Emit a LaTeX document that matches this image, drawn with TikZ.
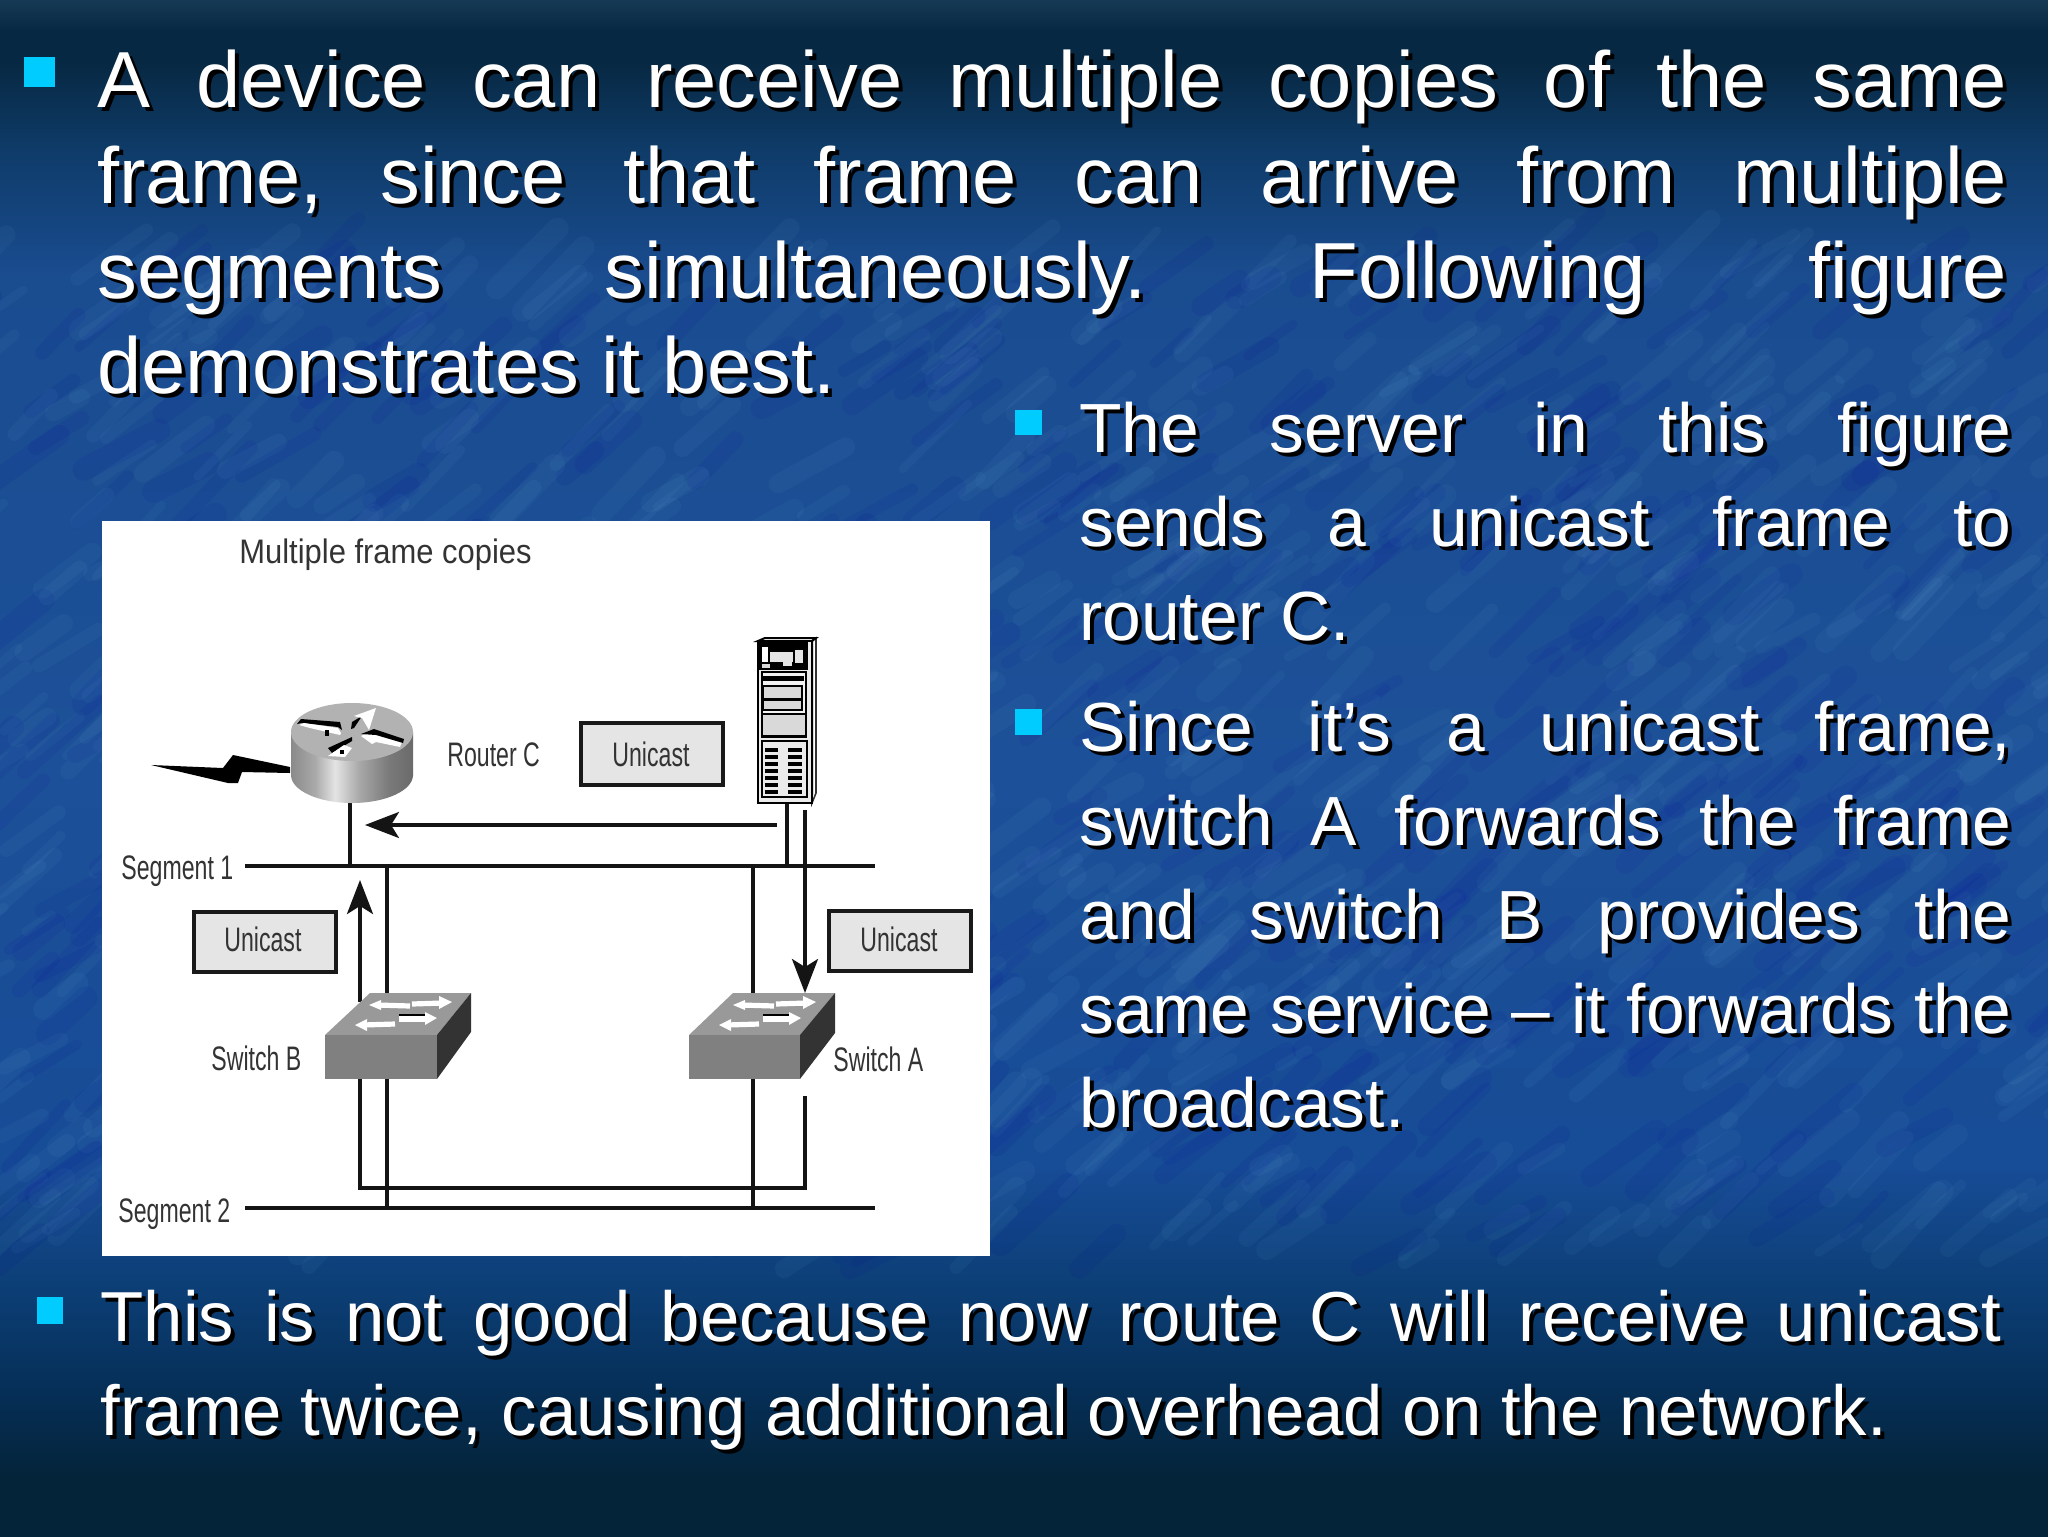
\documentclass[tikz,border=0pt]{standalone}
\usepackage{fontspec}
\setmainfont{Liberation Sans}
\newfontfamily\labfont[FakeStretch=0.68]{Liberation Sans}
\newfontfamily\titlefont[FakeStretch=0.91]{Liberation Sans}
\frenchspacing
\usetikzlibrary{arrows.meta}
\definecolor{bulletc}{HTML}{00CCFF}
\definecolor{bga}{HTML}{04243A}
\definecolor{bgc}{HTML}{06305A}
\definecolor{bgd}{HTML}{0C3E75}
\definecolor{bge}{HTML}{174C96}
\definecolor{bgf}{HTML}{1C5098}
\definecolor{bgg}{HTML}{1A4C90}
\definecolor{bgh}{HTML}{0F3C6A}
\definecolor{bgi}{HTML}{072842}
\definecolor{bgk}{HTML}{163A55}
\definecolor{cya}{HTML}{8A8A8A}
\definecolor{cyb}{HTML}{AAAAAA}
\definecolor{cyc}{HTML}{E4E4E4}
\definecolor{cyd}{HTML}{A8A8A8}
\definecolor{cye}{HTML}{7A7A7A}
\definecolor{cyf}{HTML}{6A6A6A}
\pgfdeclareverticalshading{bgshade}{100bp}{
 color(0bp)=(bga);
 color(25bp)=(bga);
 color(27bp)=(bga);
 color(30bp)=(bgc);
 color(33bp)=(bgd);
 color(37bp)=(bge);
 color(50bp)=(bgf);
 color(66bp)=(bgg);
 color(70bp)=(bgh);
 color(73bp)=(bgi);
 color(74bp)=(bgi);
 color(75bp)=(bgk);
 color(100bp)=(bgk)}
\pgfdeclarehorizontalshading{cylshade}{100bp}{
 color(0bp)=(cya);
 color(25bp)=(cya);
 color(35bp)=(cyb);
 color(43bp)=(cyc);
 color(53bp)=(cyd);
 color(65bp)=(cye);
 color(75bp)=(cyf);
 color(100bp)=(cyf)}
\tikzset{
 x=0.5pt,y=-0.5pt,
 big/.style={inner sep=0pt,anchor=base west,font=\fontsize{39.75}{42}\selectfont},
 small/.style={inner sep=0pt,anchor=base west,font=\fontsize{34.8}{38}\selectfont},
 low/.style={inner sep=0pt,anchor=base west,font=\fontsize{35.4}{38}\selectfont},
 lab/.style={inner sep=0pt,anchor=base west,text=black!80,font=\labfont\fontsize{17}{19}\selectfont},
 ttl/.style={inner sep=0pt,anchor=base west,text=black!80,font=\titlefont\fontsize{17}{19}\selectfont},
 wire/.style={line width=1.7pt,black!92},
 arr/.style={wire,-{Stealth[length=17pt,width=13pt,inset=4pt]}},
 msg/.style={draw=black!90,line width=2pt,fill=black!10},
 bullet/.style={fill=bulletc,draw=none},
 swtop/.style={fill=black!40},
 swfront/.style={fill=black!50},
 swside/.style={fill=black!80},
 swmark/.style={white,line width=2.6pt},
}
% #1 style, #2 x, #3 y, #4 width in px, #5 text
\newcommand{\jline}[5]{%
 \node[#1,text=black] (s#2-#3) at (#2+4,#3+4) {\makebox[\dimexpr #4pt/2\relax][s]{#5}};
 \node[#1,text=white] (t#2-#3) at (#2,#3) {\makebox[\dimexpr #4pt/2\relax][s]{#5}};}
\newcommand{\nline}[4]{%
 \node[#1,text=black] (s#2-#3) at (#2+4,#3+4) {#4};
 \node[#1,text=white] (t#2-#3) at (#2,#3) {#4};}
\newcommand{\swmarks}[2]{%
 \begin{scope}[shift={(#1,#2)}]
  \draw[swmark] (52,-30) -- (85,-29);
  \fill[white] (44,-30) -- (56,-35) -- (56,-25) -- cycle;
  \draw[swmark] (87,-31) -- (118,-32);
  \fill[white] (127,-33) -- (114,-39) -- (114,-26) -- cycle;
  \draw[swmark] (38,-10) -- (70,-11);
  \fill[white] (30,-10) -- (42,-16) -- (42,-4) -- cycle;
  \draw[swmark] (74,-16) -- (104,-16);
  \draw[black,line width=1pt] (74,-20) -- (104,-20);
  \fill[white] (112,-17) -- (100,-23) -- (100,-10) -- cycle;
 \end{scope}}
\begin{document}
\begin{tikzpicture}
\useasboundingbox (0,0) rectangle (2048,1536);
\begin{scope}
\clip (0,0) rectangle (2048,1536);
\shade[shading=bgshade] (0,0) rectangle (2048,1536);
% mottled texture
\pgfmathsetseed{4242}
\foreach \i in {1,...,800}{
  \pgfmathsetmacro{\xa}{1024+1100*rand}
  \pgfmathsetmacro{\ya}{770+500*rand}
  \pgfmathsetmacro{\ll}{25+45*rnd}
  \pgfmathsetmacro{\ww}{4+7*rnd}
  \pgfmathsetmacro{\dd}{\ll*(0.8+0.3*rand)}
  \draw[line cap=round,line width=\ww pt,opacity=0.045,color=blue!25!cyan!40!white] (\xa,\ya) -- ++(\ll,-\dd);
}
\pgfmathsetseed{777}
\foreach \i in {1,...,500}{
  \pgfmathsetmacro{\xa}{1024+1100*rand}
  \pgfmathsetmacro{\ya}{770+500*rand}
  \pgfmathsetmacro{\ll}{30+50*rnd}
  \pgfmathsetmacro{\ww}{4+8*rnd}
  \pgfmathsetmacro{\dd}{\ll*(0.8+0.3*rand)}
  \draw[line cap=round,line width=\ww pt,opacity=0.07,color=blue!60!black] (\xa,\ya) -- ++(\ll,-\dd);
}
\end{scope}
% bullets
\path[bullet] (24,57) rectangle (55,87);
\path[bullet] (1015,410) rectangle (1042,435);
\path[bullet] (1015,709) rectangle (1042,735);
\path[bullet] (37,1297) rectangle (63,1324);
% main text
\jline{big}{97}{108}{1910}{A device can receive multiple copies of the same}
\jline{big}{97}{203}{1910}{frame, since that frame can arrive from multiple}
\jline{big}{97}{298}{1910}{segments simultaneously. Following figure}
\nline{big}{97}{393}{demonstrates it best.}
% right text
\jline{small}{1079}{452}{932}{The server in this figure}
\jline{small}{1079}{546}{932}{sends a unicast frame to}
\nline{small}{1079}{640}{router C.}
\jline{small}{1079}{751}{932}{Since it’s a unicast frame,}
\jline{small}{1079}{845}{932}{switch A forwards the frame}
\jline{small}{1079}{939}{932}{and switch B provides the}
\jline{small}{1079}{1033}{932}{same service – it forwards the}
\nline{small}{1079}{1127}{broadcast.}
% bottom text
\jline{low}{100}{1341}{1901}{This is not good because now route C will receive unicast}
\nline{low}{100}{1435}{frame twice, causing additional overhead on the network.}
% figure panel
\fill[white] (102,521) rectangle (990,1256);
\node[ttl] (title) at (239,563) {Multiple frame copies};
% coordinates
\coordinate (s1l) at (245,866);
\coordinate (s1r) at (875,866);
\coordinate (s2l) at (245,1208);
\coordinate (s2r) at (875,1208);
\coordinate (rb) at (350,803);
\coordinate (rj) at (350,866);
\coordinate (sv) at (787,803);
\coordinate (svj) at (787,866);
\coordinate (b1) at (387,866);
\coordinate (b2) at (387,993);
\coordinate (b3) at (387,1079);
\coordinate (b4) at (387,1208);
\coordinate (a1) at (753,866);
\coordinate (a2) at (753,993);
\coordinate (a3) at (753,1078);
\coordinate (a4) at (753,1208);
\coordinate (f1) at (777,825);
\coordinate (f2) at (365,825);
\coordinate (d1) at (805,810);
\coordinate (d2) at (805,993);
\coordinate (l1) at (360,1079);
\coordinate (l2) at (360,1188);
\coordinate (l3) at (805,1188);
\coordinate (l4) at (805,1096);
\coordinate (u1) at (360,1002);
\coordinate (u2) at (360,880);
% wires
\draw[wire] (s1l) -- (s1r);
\draw[wire] (s2l) -- (s2r);
\draw[wire] (rb) -- (rj);
\draw[wire] (sv) -- (svj);
\draw[wire] (b1) -- (b2);
\draw[wire] (b3) -- (b4);
\draw[wire] (a1) -- (a2);
\draw[wire] (a3) -- (a4);
\draw[wire,line join=miter] (l1) -- (l2) -- (l3) -- (l4);
\draw[arr] (f1) -- (f2);
\draw[arr] (d1) -- (d2);
\draw[arr] (u1) -- (u2);
% message boxes
\node[msg,minimum width=71pt,minimum height=31pt,inner sep=0pt] (m1) at (651.5,754) {};
\node[msg,minimum width=71pt,minimum height=30pt,inner sep=0pt] (m2) at (900,941) {};
\node[msg,minimum width=71pt,minimum height=30pt,inner sep=0pt] (m3) at (264.5,941.5) {};
\node[lab] (m1t) at (612,766) {Unicast};
\node[lab] (m2t) at (860,951) {Unicast};
\node[lab] (m3t) at (224,951) {Unicast};
% router
\shade[shading=cylshade] (352,775) ellipse [x radius=61,y radius=28];
\shade[shading=cylshade] (291,732) rectangle (413,775);
\fill[black!30] (352,732) ellipse [x radius=61,y radius=29];
\begin{scope}
 \fill[black] (297,724) -- (301,719) -- (340,722) -- (342,730) -- (338,727) -- (302,723) -- cycle;
 \fill[white] (299,725) -- (304,723) -- (338,728) -- (341,733) -- (340,735) -- (310,728) -- cycle;
 \fill[black] (325,730) rectangle (329,736);
 \fill[black] (352,722) -- (362,716) -- (354,728) -- (351,729) -- cycle;
 \fill[white] (354,716) -- (376,708) -- (369,730) -- (362,718) -- cycle;
 \fill[black] (328,748) -- (352,737) -- (352,741) -- (332,753) -- cycle;
 \fill[white] (328,756) -- (344,745) -- (352,748) -- (345,757) -- cycle;
 \fill[black] (340,750) rectangle (344,754);
 \fill[white] (361,736) -- (374,730) -- (402,742) -- (400,747) -- (376,742) -- (372,744) -- cycle;
 \fill[black] (361,734) -- (374,729) -- (404,739) -- (403,743) -- (376,735) -- cycle;
\end{scope}
% lightning
\fill[black] (151,765) -- (223,768) -- (233,755) -- (290,767) -- (290,773) -- (242,772) -- (238,783) -- (228,783) -- cycle;
\node[lab] (rlab) at (447,766) {Router C};
% server
\fill[white,draw=black!80,line width=.8pt] (812,640) -- (816,638) -- (816,793) -- (812,803) -- cycle;
\fill[black!15] (812,641) rectangle (814,795);
\fill[white,draw=black,line width=1pt] (765,638) -- (816,638) -- (812,641) -- (758,641) -- cycle;
\fill[black!8,draw=black,line width=1.2pt] (758,641) rectangle (812,803);
\fill[black] (758,641) rectangle (808,670);
\fill[white] (762,647) rectangle (768,662);
\fill[black!10] (770,652) rectangle (793,662);
\fill[black!10] (783,660) rectangle (792,666);
\fill[black!10] (795,650) rectangle (803,663);
\fill[black!15] (762,664) rectangle (770,668);
\draw[black,line width=.8pt,fill=black!5] (762,672) rectangle (806,737);
\fill[black] (763,676) rectangle (804,681);
\draw[black,line width=.8pt,fill=black!15] (763,686) rectangle (802,699);
\draw[black,line width=.8pt,fill=black!15] (763,700) rectangle (802,710);
\draw[black,line width=.8pt,fill=black!15] (762,714) rectangle (806,736);
\draw[black,line width=1pt,fill=black!8] (762,741) rectangle (807,797);
\foreach \yy in {748,755,762,769,776,783,790}{
  \fill[black] (765,\yy) rectangle (778,\yy+4);
  \fill[black] (788,\yy) rectangle (802,\yy+4);
}
% switch B
\fill[swtop] (325,1035) -- (370,993) -- (471,993) -- (437,1035) -- cycle;
\fill[swfront] (325,1035) rectangle (437,1079);
\fill[swside] (437,1035) -- (471,993) -- (471,1032) -- (437,1079) -- cycle;
\swmarks{325}{1035}
% switch A
\fill[swtop] (689,1035) -- (733,993) -- (835,993) -- (800,1035) -- cycle;
\fill[swfront] (689,1035) rectangle (800,1079);
\fill[swside] (800,1035) -- (835,993) -- (835,1033) -- (800,1079) -- cycle;
\swmarks{689}{1035}
% labels
\node[lab] (slab1) at (121,879) {Segment 1};
\node[lab] (slab2) at (118,1222) {Segment 2};
\node[lab] (swb) at (211,1070) {Switch B};
\node[lab] (swa) at (833,1071) {Switch A};
\end{tikzpicture}
\end{document}
